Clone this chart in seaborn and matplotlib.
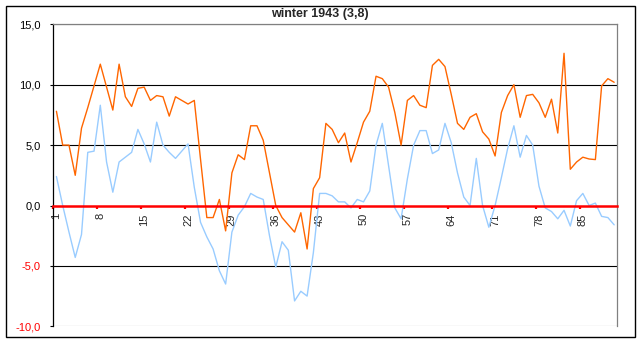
import matplotlib
matplotlib.use("Agg")
import matplotlib.pyplot as plt
import pandas as pd
import seaborn as sns
from matplotlib.patches import Rectangle

title = "winter 1943 (3,8)"
days = list(range(1, 91))
tmax = [7.8, 5.0, 5.0, 2.5, 6.4, 8.1, 9.9, 11.7, 9.8, 7.9,
        11.7, 9.0, 8.2, 9.7, 9.8, 8.7, 9.1, 9.0, 7.4, 9.0,
        8.7, 8.4, 8.7, 3.8, -1.0, -1.0, 0.5, -2.1, 2.7, 4.2,
        3.8, 6.6, 6.6, 5.4, 2.7, 0.0, -1.0, -1.6, -2.2, -0.6,
        -3.6, 1.4, 2.3, 6.8, 6.3, 5.2, 6.0, 3.6, 5.2, 6.9,
        7.8, 10.7, 10.5, 9.8, 7.7, 5.0, 8.7, 9.1, 8.3, 8.1,
        11.6, 12.1, 11.5, 9.2, 6.8, 6.3, 7.3, 7.6, 6.1, 5.5,
        4.1, 7.7, 9.1, 10.0, 7.3, 9.1, 9.2, 8.5, 7.3, 8.8,
        6.0, 12.6, 3.0, 3.6, 4.0, 3.85, 3.8, 9.9, 10.5, 10.2]
tmin = [2.4, 0.0, -2.2, -4.3, -2.4, 4.4, 4.5, 8.3, 3.6, 1.1,
        3.6, 4.0, 4.4, 6.3, 5.1, 3.6, 6.9, 5.0, 4.4, 3.9,
        4.5, 5.1, 1.5, -1.4, -2.6, -3.6, -5.4, -6.5, -2.2, -0.8,
        -0.1, 1.0, 0.7, 0.5, -2.5, -5.1, -3.0, -3.7, -7.9, -7.1,
        -7.5, -3.9, 1.0, 1.0, 0.8, 0.3, 0.3, -0.2, 0.5, 0.3,
        1.2, 5.0, 6.8, 3.3, -0.2, -1.1, 2.2, 5.0, 6.2, 6.2,
        4.3, 4.6, 6.8, 5.2, 2.7, 0.7, 0.0, 3.9, 0.0, -1.8,
        0.0, 2.3, 4.7, 6.6, 4.0, 5.8, 5.0, 1.6, -0.2, -0.5,
        -1.1, -0.4, -1.7, 0.4, 1.0, 0.0, 0.2, -0.9, -1.0, -1.6]
xtick_days = [1, 8, 15, 22, 29, 36, 43, 50, 57, 64, 71, 78, 85]
ytick_values = [-10, -5, 0, 5, 10, 15]
ytick_labels = ["-10,0", "-5,0", "0,0", "5,0", "10,0", "15,0"]

sns.set_style("white")
plt.rcParams['font.family'] = ['Liberation Sans', 'DejaVu Sans']

W, H = 641, 342
fig = plt.figure(figsize=(W / 100, H / 100), dpi=100)
fig.patch.set_facecolor("white")
ax = fig.add_axes([53.3 / W, 1 - 326.3 / H, 564 / W, 302 / H])

df = pd.DataFrame({"day": days, "tmax": tmax, "tmin": tmin})
sns.lineplot(data=df, x="day", y="tmin", color="#99CCFF", lw=1.0, ax=ax, zorder=2)
sns.lineplot(data=df, x="day", y="tmax", color="#FF6600", lw=1.0, ax=ax, zorder=2.1)

ax.set_xlim(0.5, 90.5)
ax.set_ylim(-10, 15)
ax.set_xlabel("")
ax.set_ylabel("")

# y axis
ax.set_yticks(ytick_values)
ax.set_yticklabels(ytick_labels)
for lab, v in zip(ax.get_yticklabels(), ytick_values):
    lab.set_color("red" if v < 0 else "black")
ax.tick_params(axis="y", which="major", left=True, length=2.4, width=0.8,
               direction="out", pad=6.5, labelsize=8, color="black")
ax.yaxis.grid(True, color="black", lw=0.8)
for gl, v in zip(ax.yaxis.get_gridlines(), ytick_values):
    if v in (-10, 15):
        gl.set_color("#808080")
    if v == 0:
        gl.set_visible(False)
ax.xaxis.grid(False)
ax.set_axisbelow(True)

# x axis at zero
ax.spines["bottom"].set_position(("data", 0))
ax.spines["bottom"].set_color("red")
ax.spines["bottom"].set_linewidth(1.8)
ax.spines["bottom"].set_zorder(3)
ax.spines["left"].set_color("black")
ax.spines["left"].set_linewidth(0.9)
ax.spines["top"].set_color("#808080")
ax.spines["top"].set_linewidth(0.9)
ax.spines["right"].set_color("#808080")
ax.spines["right"].set_linewidth(0.9)
for s in ax.spines.values():
    s.set_visible(True)

ax.set_xticks(xtick_days)
ax.set_xticklabels([str(d) for d in xtick_days], rotation=90)
ax.set_xticks([d - 0.5 for d in xtick_days], minor=True)
ax.tick_params(axis="x", which="major", bottom=True, length=0, pad=5.5, labelsize=8)
ax.tick_params(axis="x", which="minor", bottom=True, length=2.4, width=1.6,
               color="red", direction="out")

# chart frame
fig.add_artist(Rectangle((5.5 / W, 1 - 336.5 / H), 629 / W, 331 / H,
                         transform=fig.transFigure, fill=False, ec="black", lw=1.0))
fig.text(320 / W, 1 - 14.5 / H, title, ha="center", va="center",
         fontsize=9, fontweight="bold")

fig.savefig("out.png", dpi=100)
